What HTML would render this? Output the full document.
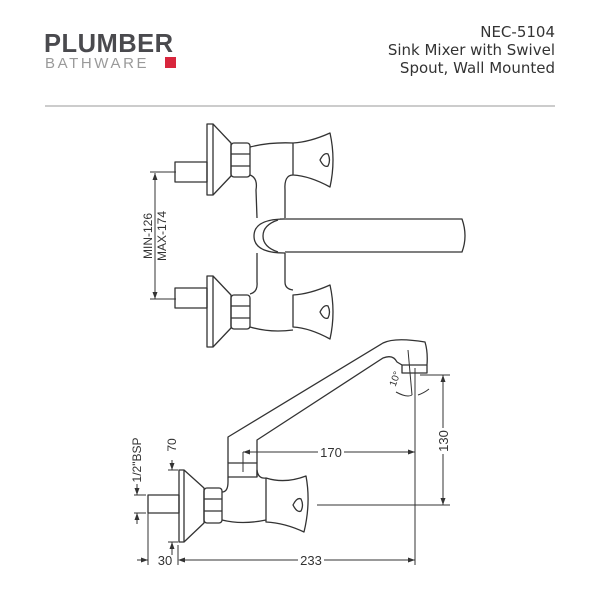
<!DOCTYPE html>
<html><head><meta charset="utf-8"><style>
html,body{margin:0;padding:0;background:#fff}
svg{display:block}
</style></head><body>
<svg width="600" height="600" viewBox="0 0 600 600" xmlns="http://www.w3.org/2000/svg">
<rect x="0" y="0" width="600" height="600" fill="#fff"/>
<!-- header -->
<text x="44" y="52" font-family="Liberation Sans, sans-serif" font-weight="bold" font-size="25.5" fill="#4a4a4e" letter-spacing="0.5">PLUMBER</text>
<text x="45" y="68" font-family="Liberation Sans, sans-serif" font-size="15" fill="#9a9a9a" letter-spacing="2.6">BATHWARE</text>
<rect x="165" y="57" width="11" height="11" fill="#d8263d"/>
<g font-family="DejaVu Sans, sans-serif" font-size="15" fill="#333" text-anchor="end">
<text x="555" y="37">NEC-5104</text>
<text x="555" y="55">Sink Mixer with Swivel</text>
<text x="555" y="73">Spout, Wall Mounted</text>
</g>
<line x1="45" y1="106" x2="555" y2="106" stroke="#bbb" stroke-width="1.5"/>

<g fill="none" stroke="#333" stroke-width="1.3" stroke-linejoin="round">
<!-- TOP VIEW -->
<rect x="175" y="162" width="32" height="20"/>
<rect x="175" y="288" width="32" height="20"/>
<g id="unit">
<rect x="207" y="124" width="6" height="71"/>
<path d="M213 124 L231 143 L231 176 L213 195"/>
<rect x="231" y="143" width="19" height="34" rx="3"/>
<line x1="231" y1="154" x2="250" y2="154"/><line x1="231" y1="166" x2="250" y2="166"/>
<path d="M293 143 L293 175 Q310 176 330 187 Q336 160 330 133 Q310 142 293 143 Z"/>
<path d="M320 160 Q324 152 328 154 Q331 160 328 166 Q324 168 320 160 Z"/>
</g>
<use href="#unit" transform="translate(0,152)"/>
<path d="M250 147 Q270 142 293 143"/>
<path d="M250 175 Q258 178 256 190 L257 218"/>
<path d="M293 175 Q284 175 285 190 L285 218"/>
<path d="M257 253 L257 282 Q258 292 250 294"/>
<path d="M285 253 L285 282 Q285 289 293 290"/>
<path d="M250 327 Q270 333 293 330"/>
<path d="M280 219 L462 219 Q468 236 462 252 L280 252"/>
<path d="M285 219 Q254 219 254 236 Q254 253 285 253" fill="#fff"/>
<path d="M278 220 Q263 225 263 236 Q263 247 278 252"/>

<!-- SIDE VIEW -->
<rect x="148" y="495" width="31" height="18"/>
<rect x="179" y="470" width="5" height="72"/>
<path d="M184 470 L204 488 L204 523 L184 542"/>
<rect x="204" y="488" width="18" height="35" rx="3"/>
<line x1="204" y1="499" x2="222" y2="499"/><line x1="204" y1="511" x2="222" y2="511"/>
<path d="M222 492 Q228 492 228 482 L228 477"/>
<path d="M222 520 Q242 525 266 520"/>
<path d="M266 478 Q258 479 257 470 L257 477"/>
<rect x="228" y="463" width="29" height="14"/>
<path d="M228 463 L228 437 L383 343 Q395 337 425 342 Q428 352 427 365 L402 365 L402 373 L427 373 L427 365"/>
<path d="M257 463 L257 440 L383 358 Q393 354 397 362 L402 365"/>
<path d="M266 478 Q285 484 306 476 Q311 503 304 532 Q285 523 266 522 Z"/>
<path d="M293 505 Q297 497 301 499 Q304 505 301 511 Q297 513 293 505 Z"/>
</g>

<!-- dimensions -->
<g stroke="#333" stroke-width="1" fill="none">
<line x1="155" y1="173" x2="155" y2="299"/>
<line x1="150" y1="172" x2="176" y2="172"/>
<line x1="150" y1="299" x2="176" y2="299"/>
<line x1="415" y1="368" x2="415" y2="565"/>
<line x1="178" y1="545" x2="178" y2="565"/>
<line x1="148" y1="513" x2="148" y2="565"/>
<line x1="185" y1="560" x2="298" y2="560"/><line x1="324" y1="560" x2="415" y2="560"/>
<line x1="137" y1="560" x2="148" y2="560"/>
<line x1="243" y1="452" x2="318" y2="452"/><line x1="344" y1="452" x2="415" y2="452"/>
<line x1="243" y1="452" x2="243" y2="472"/>
<line x1="443" y1="375" x2="443" y2="428"/><line x1="443" y1="454" x2="443" y2="505"/>
<line x1="420" y1="375" x2="450" y2="375"/>
<line x1="317" y1="505" x2="450" y2="505"/>
<line x1="137" y1="484" x2="137" y2="495"/><line x1="134" y1="495" x2="146" y2="495"/>
<line x1="137" y1="513" x2="137" y2="524"/><line x1="134" y1="513" x2="146" y2="513"/>
<line x1="172" y1="460" x2="172" y2="470"/><line x1="168" y1="470" x2="178" y2="470"/>
<line x1="172" y1="542" x2="172" y2="555"/><line x1="168" y1="542" x2="178" y2="542"/>
<path d="M396 392 Q407 398 412 395"/>
<path d="M418 395 Q424 393 429 389"/>
<line x1="408" y1="350" x2="412" y2="395"/>
</g>
<g fill="#333">
<path d="M155 173 l-2.5 7 h5 z"/><path d="M155 299 l-2.5 -7 h5 z"/>
<path d="M178 560 l7 -2.5 v5 z"/><path d="M148 560 l-7 -2.5 v5 z"/>
<path d="M415 560 l-7 -2.5 v5 z"/>
<path d="M243 452 l7 -2.5 v5 z"/><path d="M415 452 l-7 -2.5 v5 z"/>
<path d="M443 375 l-2.5 7 h5 z"/><path d="M443 505 l-2.5 -7 h5 z"/>
<path d="M137 495 l-2.5 -7 h5 z"/><path d="M137 513 l-2.5 7 h5 z"/>
<path d="M172 470 l-2.5 -7 h5 z"/><path d="M172 542 l-2.5 7 h5 z"/>
</g>
<g font-family="Liberation Sans, sans-serif" font-size="13" fill="#333">
<text transform="translate(152,236) rotate(-90)" text-anchor="middle" font-size="12">MIN-126</text>
<text transform="translate(166,236) rotate(-90)" text-anchor="middle" font-size="12">MAX-174</text>
<text x="311" y="565" text-anchor="middle">233</text>
<text x="165" y="565" text-anchor="middle">30</text>
<text x="331" y="457" text-anchor="middle">170</text>
<text transform="translate(448,441) rotate(-90)" text-anchor="middle">130</text>
<text transform="translate(141,460) rotate(-90)" text-anchor="middle" font-size="12">1/2"BSP</text>
<text transform="translate(176,445) rotate(-90)" text-anchor="middle" font-size="12">70</text>
<text transform="translate(398,380) rotate(-70)" text-anchor="middle" font-size="10">10°</text>
</g>
</svg>
</body></html>
